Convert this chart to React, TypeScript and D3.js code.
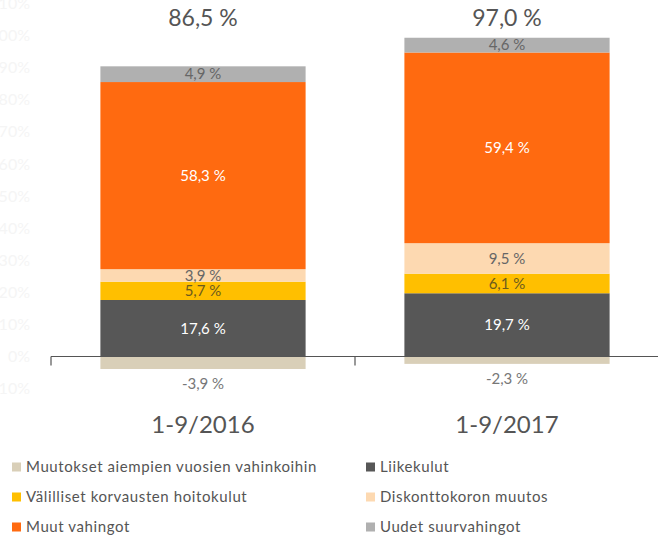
import React from "react";
import * as d3 from "d3";

const categories = ["1-9/2016", "1-9/2017"];
const seriesNames = [
  "Muutokset aiempien vuosien vahinkoihin",
  "Liikekulut",
  "Välilliset korvausten hoitokulut",
  "Diskonttokoron muutos",
  "Muut vahingot",
  "Uudet suurvahingot",
];
const muutokset = [-3.9, -2.3];
const liikekulut = [17.6, 19.7];
const valilliset = [5.7, 6.1];
const diskontto = [3.9, 9.5];
const muut = [58.3, 59.4];
const uudet = [4.9, 4.6];
const totals = ["86,5 %", "97,0 %"];
const yTicks = [-10, 0, 10, 20, 30, 40, 50, 60, 70, 80, 90, 100, 110];

const colors = ["#d9cfb8", "#575757", "#ffbf00", "#fdd9b1", "#ff6a10", "#b0b0b0"];
const labelColors = ["#777777", "#ffffff", "#6b5a1e", "#666666", "#ffffff", "#666666"];
const legendOrder = [0, 1, 2, 3, 4, 5];

const W = 658;
const H = 536;
const FONT = "Lato, 'Open Sans', sans-serif";

export default function App() {
  const values = [muutokset, liikekulut, valilliset, diskontto, muut, uudet];
  const x = d3.scaleBand<string>().domain(categories).range([51, 659]).paddingInner(0).paddingOuter(0);
  const y = d3.scaleLinear().domain([0, 100]).range([356.5, 35.5]);
  const bw = x.bandwidth() * 0.675;
  const fmt = (v: number) => v.toFixed(1).replace(".", ",") + " %";

  const bars: any[] = [];
  categories.forEach((c, ci) => {
    const cx = (x(c) as number) + x.bandwidth() / 2;
    let posBase = 0;
    let negBase = 0;
    values.forEach((arr, si) => {
      const v = arr[ci];
      let y0: number, y1: number;
      if (v >= 0) {
        y0 = posBase;
        y1 = posBase + v;
        posBase = y1;
      } else {
        y0 = negBase + v;
        y1 = negBase;
        negBase = y0;
      }
      const top = y(y1);
      const bot = y(y0);
      const neg = v < 0;
      bars.push(
        <g key={c + si}>
          <rect x={cx - bw / 2} y={top} width={bw} height={bot - top} fill={colors[si]} />
          <text
            x={cx}
            y={neg ? bot + 14.5 : (top + bot) / 2}
            dy="0.35em"
            textAnchor="middle"
            fontSize={15}
            fill={labelColors[si]}
            fontFamily={FONT}
          >
            {fmt(v)}
          </text>
        </g>
      );
    });
  });

  return (
    <svg width={W} height={H} style={{ position: "absolute", left: 0, top: 0, background: "#fff" }}>
      {yTicks.map((t) => (
        <text key={t} x={30} y={y(t)} dy="0.35em" textAnchor="end" fontSize={16} fill="#f5f5f5" fontFamily={FONT}>
          {t}%
        </text>
      ))}
      {bars}
      <line x1={51} x2={658} y1={y(0)} y2={y(0)} stroke="#555" strokeWidth={1.2} />
      {[51, 355].map((tx) => (
        <line key={tx} x1={tx} x2={tx} y1={y(0)} y2={y(0) + 9} stroke="#555" strokeWidth={1.2} />
      ))}
      {categories.map((c, ci) => {
        const cx = (x(c) as number) + x.bandwidth() / 2;
        return (
          <g key={c}>
            <text x={cx} y={18} dy="0.35em" textAnchor="middle" fontSize={23} fill="#555" fontFamily={FONT}>
              {totals[ci]}
            </text>
            <text x={cx} y={425} dy="0.35em" textAnchor="middle" fontSize={24} fill="#555" fontFamily={FONT}>
              {c}
            </text>
          </g>
        );
      })}
      {legendOrder.map((si, i) => {
        const col = i % 2;
        const row = Math.floor(i / 2);
        const lx = col === 0 ? 12 : 366;
        const ly = 467 + row * 30;
        return (
          <g key={si}>
            <rect x={lx} y={ly - 4.5} width={9} height={9} fill={colors[si]} />
            <text x={lx + 14} y={ly} dy="0.35em" fontSize={15} fill="#555" fontFamily={FONT} letterSpacing={0.6}>
              {seriesNames[si]}
            </text>
          </g>
        );
      })}
    </svg>
  );
}
